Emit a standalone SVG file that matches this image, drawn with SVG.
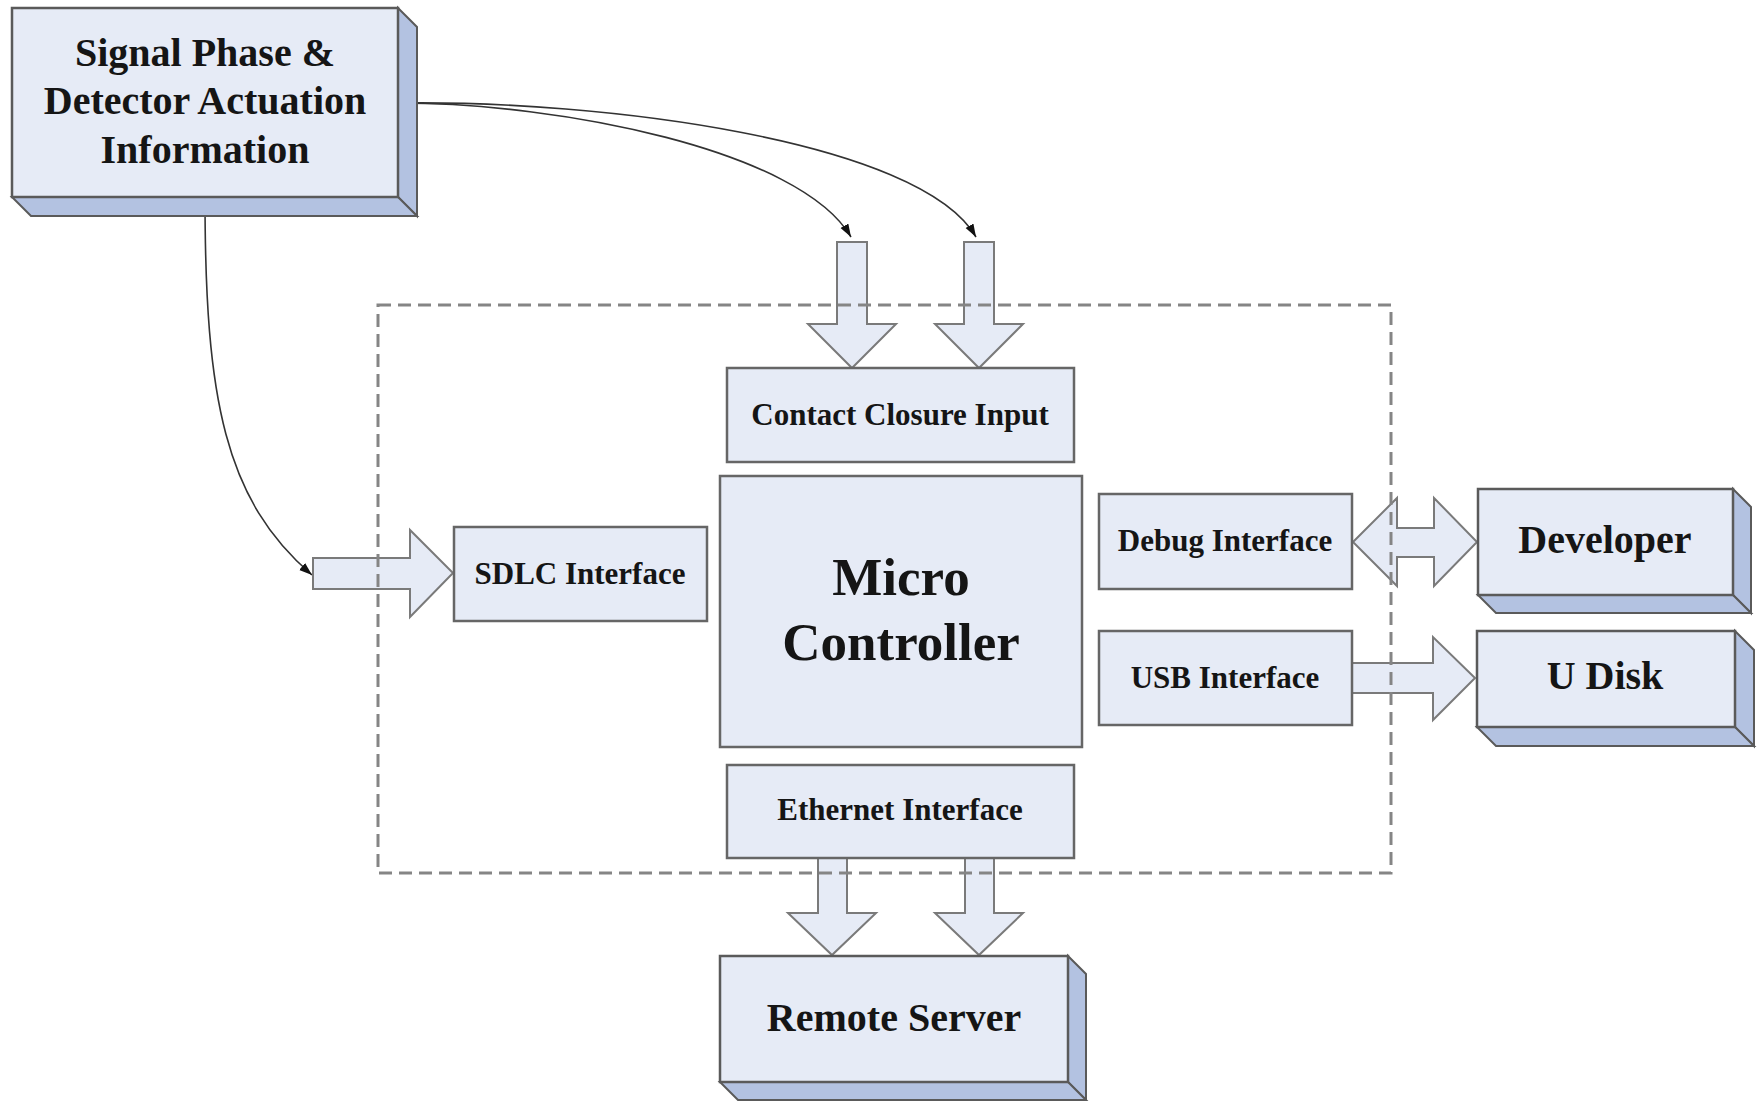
<svg xmlns="http://www.w3.org/2000/svg" width="1758" height="1101" viewBox="0 0 1758 1101">
<defs>
<style>
.front{fill:#e6ebf6;stroke:#5a5a5a;stroke-width:2.5}
.side{fill:#b3c2e1;stroke:#5a5a5a;stroke-width:2}
.box{fill:#e6ebf6;stroke:#666;stroke-width:2.5}
.blk{fill:#e6ebf6;stroke:#7a7a7a;stroke-width:2;stroke-linejoin:miter}
.curve{fill:none;stroke:#333;stroke-width:1.6}
.dash{fill:none;stroke:#858585;stroke-width:3;stroke-dasharray:13 7}
text{font-family:"Liberation Serif","Times New Roman",serif;font-weight:bold;fill:#151515;text-anchor:middle}
.t31{font-size:31px}
.t40{font-size:40px}
.t53{font-size:53px}
</style>
<marker id="ah" markerWidth="14" markerHeight="10" refX="13" refY="4.5" orient="auto" markerUnits="userSpaceOnUse">
<path d="M0,0 L13,4.5 L0,9 z" fill="#111"/>
</marker>
</defs>
<rect width="1758" height="1101" fill="#ffffff"/>

<g id="connectors">
<path class="curve" d="M398 103 C560 103 800 150 851 237" marker-end="url(#ah)"/>
<path class="curve" d="M398 103 C600 100 920 140 976 237" marker-end="url(#ah)"/>
<path class="curve" d="M205 197 C205 400 225 500 312 575" marker-end="url(#ah)"/>
<polygon class="blk" points="837,242 867,242 867,324 896,324 852,368 808,324 837,324"/>
<polygon class="blk" points="964,242 994,242 994,324 1023,324 979,368 935,324 964,324"/>
<polygon class="blk" points="818,858 847,858 847,913 876,913 832,955 788,913 818,913"/>
<polygon class="blk" points="965,858 994,858 994,913 1023,913 979,955 935,913 965,913"/>
<polygon class="blk" points="313,558 410,558 410,530 453,573 410,617 410,589 313,589"/>
<polygon class="blk" points="1353,542 1397,498 1397,528 1434,528 1434,498 1477,542 1434,586 1434,557 1397,557 1397,586"/>
<polygon class="blk" points="1352,663 1433,663 1433,637 1475,678 1433,720 1433,693 1352,693"/>
</g>

<rect id="boundary" class="dash" x="378" y="305" width="1013" height="568"/>

<g id="signal">
<polygon class="side" points="398,8 417,27 417,216 398,197"/>
<polygon class="side" points="12,197 398,197 417,216 31,216"/>
<rect class="front" x="12" y="8" width="386" height="189"/>
<text class="t40" x="205" y="66">Signal Phase &amp;</text>
<text class="t40" x="205" y="114">Detector Actuation</text>
<text class="t40" x="205" y="163">Information</text>
</g>

<g id="contact">
<rect class="box" x="727" y="368" width="347" height="94"/>
<text class="t31" x="900" y="425">Contact Closure Input</text>
</g>

<g id="sdlc">
<rect class="box" x="454" y="527" width="253" height="94"/>
<text class="t31" x="580" y="584">SDLC Interface</text>
</g>

<g id="micro">
<rect class="box" x="720" y="476" width="362" height="271"/>
<text class="t53" x="901" y="595">Micro</text>
<text class="t53" x="901" y="660">Controller</text>
</g>

<g id="debug">
<rect class="box" x="1099" y="494" width="253" height="95"/>
<text class="t31" x="1225" y="551">Debug Interface</text>
</g>

<g id="usb">
<rect class="box" x="1099" y="631" width="253" height="94"/>
<text class="t31" x="1225" y="688">USB Interface</text>
</g>

<g id="ethernet">
<rect class="box" x="727" y="765" width="347" height="93"/>
<text class="t31" x="900" y="820">Ethernet Interface</text>
</g>

<g id="developer">
<polygon class="side" points="1733,489 1751,507 1751,613 1733,595"/>
<polygon class="side" points="1478,595 1733,595 1751,613 1496,613"/>
<rect class="front" x="1478" y="489" width="255" height="106"/>
<text class="t40" x="1605" y="553">Developer</text>
</g>

<g id="udisk">
<polygon class="side" points="1735,631 1754,650 1754,746 1735,727"/>
<polygon class="side" points="1477,727 1735,727 1754,746 1496,746"/>
<rect class="front" x="1477" y="631" width="258" height="96"/>
<text class="t40" x="1605" y="689">U Disk</text>
</g>

<g id="remote">
<polygon class="side" points="1068,956 1086,974 1086,1100 1068,1082"/>
<polygon class="side" points="720,1082 1068,1082 1086,1100 738,1100"/>
<rect class="front" x="720" y="956" width="348" height="126"/>
<text class="t40" x="894" y="1031">Remote Server</text>
</g>
</svg>
